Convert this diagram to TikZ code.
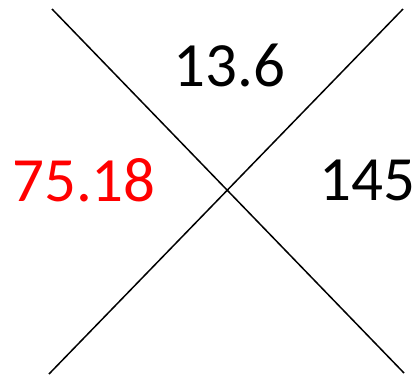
\documentclass[tikz,border=0pt]{standalone}
\usepackage{fontspec}
\setmainfont{Carlito}
\usetikzlibrary{positioning}

\begin{document}
\begin{tikzpicture}[
    x=1pt, y=-1pt,
    cross/.style={
        draw=black,
        line width=1.5pt
    },
    value/.style={
        inner sep=0pt,
        font=\fontsize{63}{63}\selectfont
    }
]

\useasboundingbox (0,0) rectangle (418,376);

% End points of the two crossing lines
\coordinate (tl) at (52,9);
\coordinate (br) at (404,373);
\coordinate (tr) at (403,9);
\coordinate (bl) at (49,374);

\draw[cross] (tl) -- (br);
\draw[cross] (tr) -- (bl);

% Values in the quadrants
\node[value] (top) at (229.5,65) {13.6};
\node[value, text=red] (left) at (84,180) {75.18};
\node[value] (right) at (367.5,180) {145};

\end{tikzpicture}
\end{document}
